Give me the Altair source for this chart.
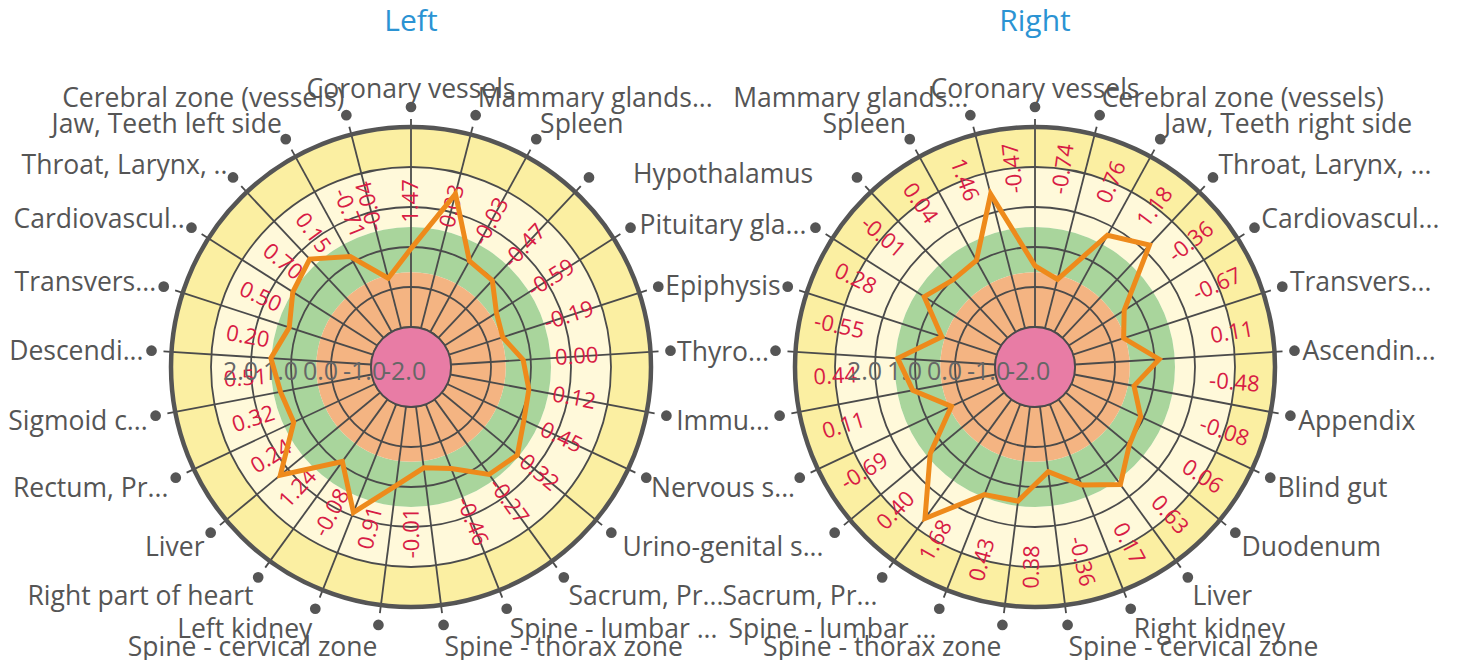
import math
import pandas as pd
import altair as alt

# ---------------- data ----------------
titles = ["Left", "Right"]

left_categories = [
    "Coronary vessels", "Mammary glands...", "Spleen", "Hypothalamus",
    "Pituitary gla...", "Epiphysis", "Thyro...", "Immu...", "Nervous s...",
    "Urino-genital s...", "Sacrum, Pr...", "Spine - lumbar ...",
    "Spine - thorax zone", "Spine - cervical zone", "Left kidney",
    "Right part of heart", "Liver", "Rectum, Pr...", "Sigmoid c...",
    "Descendi...", "Transvers...", "Cardiovascul..", "Throat, Larynx, ..",
    "Jaw, Teeth left side", "Cerebral zone (vessels)",
]
left_values = [
    -0.04, 1.47, 0.03, -0.03, -0.47, -0.59, -0.19, 0.00, 0.12, 0.45, 0.32,
    -0.27, -0.46, -0.01, 0.91, -0.08, 1.24, 0.24, 0.32, 0.51, 0.20, 0.50,
    0.70, 0.15, -0.71,
]

right_categories = [
    "Coronary vessels", "Cerebral zone (vessels)", "Jaw, Teeth right side",
    "Throat, Larynx, ...", "Cardiovascul...", "Transvers...", "Ascendin...",
    "Appendix", "Blind gut", "Duodenum", "Liver", "Right kidney",
    "Spine - cervical zone", "Spine - thorax zone", "Spine - lumbar ...",
    "Sacrum, Pr...", "Urino-genital s...", "Nervous s...", "Immu...",
    "Thyro...", "Epiphysis", "Pituitary gla...", "Hypothalamus", "Spleen",
    "Mammary glands...",
]
right_values = [
    -0.47, -0.74, 0.76, 1.18, -0.36, -0.67, 0.11, -0.48, -0.08, 0.06, 0.63,
    0.17, -0.36, 0.38, 0.43, 1.68, 0.40, -0.69, 0.11, 0.44, -0.55, 0.28,
    -0.01, 0.04, 1.46,
]

radial_ticks = [2.0, 1.0, 0.0, -1.0, -2.0]
grid_levels = [-2.0, -1.0, 0.0, 1.0, 2.0]
band_from = [2.0, 0.5, -0.63, -2.0]
band_to = [3.0, 2.0, 0.5, -0.63]
band_colors = ["#fbefa2", "#fff9da", "#a9d59c", "#f4b482"]
core_from, core_to, core_color = -3.0, -2.0, "#e87ca5"
outer_level = 3.0

# ---------------- layout / style ----------------
PX = 40.0                       # pixels per radial unit
W, H = 1442, 652
X0, YTOP = -10.075, 8.975
centers = {"Left": 0.0, "Right": 15.6}
text_r = {"Left": 166 / PX, "Right": 200 / PX}
text_off = {"Left": (-14.4, -7.5), "Right": (-6.3, -6.3)}
MERGE_GAP_PX = 300              # mirrored labels closer than this are shown once, centred
FONT = "Open Sans"
GRID = "#4b4b4b"
LABEL_SIZE = 26.5

XS = alt.Scale(domain=[X0, X0 + W / PX], nice=False, zero=False)
YS = alt.Scale(domain=[YTOP - H / PX, YTOP], nice=False, zero=False)
RS = alt.Scale(type="linear", domain=[-3, 3], range=[0, 6 * PX], nice=False, zero=False)


def X(f="x"):
    return alt.X(f"{f}:Q", scale=XS, axis=None)


def Y(f="y"):
    return alt.Y(f"{f}:Q", scale=YS, axis=None)


sides = [("Left", left_categories, left_values),
         ("Right", right_categories, right_values)]


def dot_pos(side, i, n):
    th = i * 360.0 / n
    s, co = math.sin(math.radians(th)), math.cos(math.radians(th))
    return th, s, co, centers[side] + 6.5 * s, 6.5 * co


# find mirrored label pairs in the gap between the charts
n_l, n_r = len(left_categories), len(right_categories)
merged = {}
for i, c in enumerate(left_categories):
    if i == 0:
        continue
    j = (n_r - i) % n_r
    if right_categories[j] != c:
        continue
    th, s, co, lx, ly = dot_pos("Left", i, n_l)
    _, _, _, rx, ry = dot_pos("Right", j, n_r)
    if 0 < th < 180 and (rx - lx) * PX < MERGE_GAP_PX:
        merged[("Left", i)] = (c, (lx + rx) / 2, ly, co)
        merged[("Right", j)] = None

band_rows, grid_rows, core_rows, outer_rows = [], [], [], []
spoke_rows, pt_rows, txt_rows, dot_rows, lab_rows, tick_rows, title_rows = [], [], [], [], [], [], []

for (side, cats, vals), title in zip(sides, titles):
    cx = centers[side]
    for a, b, col in zip(band_from, band_to, band_colors):
        band_rows.append(dict(cx=cx, cy=0.0, r0=a, r1=b, color=col))
    for g in grid_levels:
        grid_rows.append(dict(cx=cx, cy=0.0, r0=-3.0, r1=g))
    core_rows.append(dict(cx=cx, cy=0.0, r0=core_from, r1=core_to))
    outer_rows.append(dict(cx=cx, cy=0.0, r0=-3.0, r1=outer_level))
    title_rows.append(dict(x=cx, y=YTOP - 14 / PX, t=title))
    for t in radial_ticks:
        tick_rows.append(dict(x=cx - (t + 3) + 12 / PX, y=-5 / PX, t=f"{t:.1f}"))
    n = len(cats)
    for i, (c, v) in enumerate(zip(cats, vals)):
        th, s, co, dx, dy = dot_pos(side, i, n)
        spoke_rows.append(dict(x=cx + 1.0 * s, y=1.0 * co, x2=cx + 6.2 * s, y2=6.2 * co))
        r = v + 3
        pt_rows.append(dict(side=side, i=i, x=cx + r * s, y=r * co))
        flipped = th >= 180
        ph = th + text_off[side][1 if flipped else 0]
        rt = text_r[side]
        rot = (ph + 90) if flipped else (ph - 90)
        txt_rows.append(dict(x=cx + rt * math.sin(math.radians(ph)),
                             y=rt * math.cos(math.radians(ph)),
                             t=f"{v:.2f}", rot=rot % 360))
        dot_rows.append(dict(x=dx, y=dy))
        key = (side, i)
        if key in merged:
            m = merged[key]
            if m is None:
                continue
            mc, mx, my, mco = m
            k = 8 if mco > 0 else 20
            lab_rows.append(dict(x=mx, y=my + (k * mco - 3) / PX, t=mc, align="center"))
            continue
        align = "center" if i == 0 else ("left" if th < 180 else "right")
        lab_rows.append(dict(x=dx + 8 / PX * s, y=dy + (20 * co - 3) / PX, t=c, align=align))

bands = pd.DataFrame(band_rows)
grids = pd.DataFrame(grid_rows)
cores = pd.DataFrame(core_rows)
outers = pd.DataFrame(outer_rows)
spokes = pd.DataFrame(spoke_rows)
pts = pd.DataFrame(pt_rows)
txts = pd.DataFrame(txt_rows)
dots = pd.DataFrame(dot_rows)
labs = pd.DataFrame(lab_rows)
ticks = pd.DataFrame(tick_rows)
tits = pd.DataFrame(title_rows)

FULL = 2 * math.pi

band_layer = alt.Chart(bands).mark_arc(theta=0, theta2=FULL).encode(
    x=X("cx"), y=Y("cy"),
    radius=alt.Radius("r1:Q", scale=RS), radius2=alt.Radius2("r0:Q"),
    color=alt.Color("color:N", scale=None),
)

spoke_layer = alt.Chart(spokes).mark_rule(color=GRID, strokeWidth=1.8).encode(
    x=X("x"), y=Y("y"), x2="x2:Q", y2="y2:Q"
)

grid_layer = alt.Chart(grids).mark_arc(
    theta=0, theta2=FULL, fill="#ffffff", fillOpacity=0, stroke=GRID, strokeWidth=1.8
).encode(x=X("cx"), y=Y("cy"), radius=alt.Radius("r1:Q", scale=RS), radius2=alt.Radius2("r0:Q"))

core_layer = alt.Chart(cores).mark_arc(
    theta=0, theta2=FULL, fill=core_color, stroke=GRID, strokeWidth=1.8
).encode(x=X("cx"), y=Y("cy"), radius=alt.Radius("r1:Q", scale=RS), radius2=alt.Radius2("r0:Q"))

outer_layer = alt.Chart(outers).mark_arc(
    theta=0, theta2=FULL, fill="#ffffff", fillOpacity=0, stroke="#555555", strokeWidth=4.5
).encode(x=X("cx"), y=Y("cy"), radius=alt.Radius("r1:Q", scale=RS), radius2=alt.Radius2("r0:Q"))

txt_layer = alt.Chart(txts).mark_text(
    font=FONT, fontSize=22, color="#d81c45", align="center", baseline="middle"
).encode(x=X("x"), y=Y("y"), text="t:N", angle=alt.Angle("rot:Q", scale=None))

tick_layer = alt.Chart(ticks).mark_text(
    font=FONT, fontSize=25, color="#666666", align="left", baseline="middle"
).encode(x=X("x"), y=Y("y"), text="t:N")

line_layer = alt.Chart(pts).mark_line(
    interpolate="linear-closed", color="#ee8a1b", strokeWidth=5
).encode(x=X("x"), y=Y("y"), detail="side:N", order="i:Q")

dot_layer = alt.Chart(dots).mark_circle(size=115, color="#555555", opacity=1).encode(
    x=X("x"), y=Y("y")
)

lab_layers = [
    alt.Chart(labs).transform_filter(alt.datum.align == a).mark_text(
        font=FONT, fontSize=LABEL_SIZE, color="#555555", align=a, baseline="middle"
    ).encode(x=X("x"), y=Y("y"), text="t:N")
    for a in ["left", "right", "center"]
]

title_layer = alt.Chart(tits).mark_text(
    font=FONT, fontSize=30, color="#2b93d3", align="center", baseline="middle"
).encode(x=X("x"), y=Y("y"), text="t:N")

chart = alt.layer(
    band_layer, spoke_layer, grid_layer, core_layer, outer_layer,
    txt_layer, tick_layer, line_layer, dot_layer, *lab_layers, title_layer
).properties(width=W, height=H, padding=0, autosize="none").configure_view(stroke=None)

chart.save("out.html", embed_options={"renderer": "svg", "actions": False})
